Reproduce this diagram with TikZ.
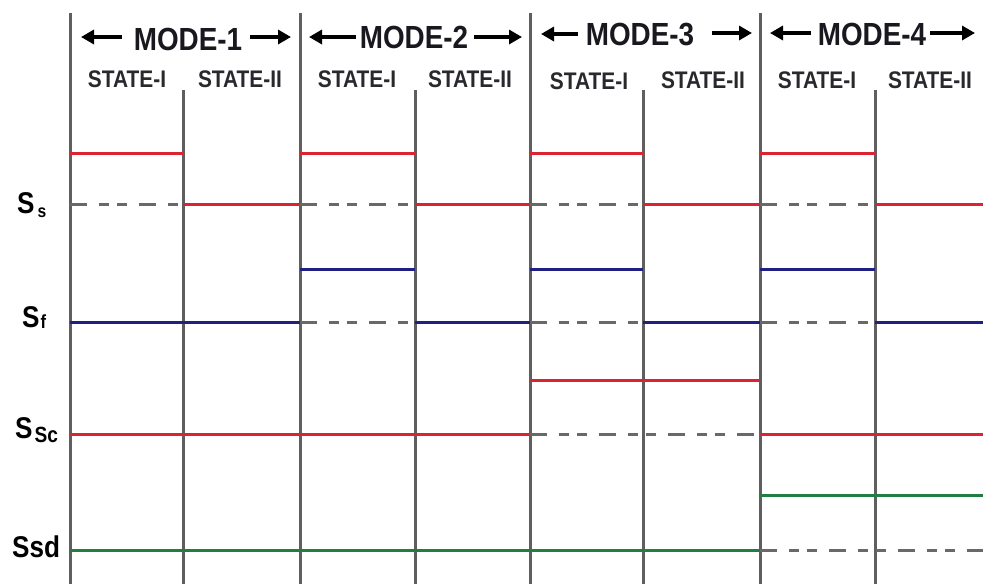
\documentclass[tikz,border=0pt]{standalone}
\usepackage{fontspec}
\setmainfont[FakeStretch=0.87]{Liberation Sans}
\usetikzlibrary{arrows.meta}
\definecolor{vgray}{RGB}{95,95,95}
\definecolor{dgray}{RGB}{105,105,105}
\definecolor{lred}{RGB}{218,36,50}
\definecolor{lblue}{RGB}{32,32,130}
\definecolor{lgreen}{RGB}{36,125,64}
\definecolor{txt}{RGB}{24,24,30}
\begin{document}
\begin{tikzpicture}[x=1pt,y=-1pt,
  majorline/.style={draw=vgray,line width=3pt},
  redln/.style={draw=lred,line width=3pt},
  blueln/.style={draw=lblue,line width=3pt},
  greenln/.style={draw=lgreen,line width=3pt},
  dashln/.style={draw=dgray,line width=3pt,dash pattern=on 17pt off 12pt on 10pt off 8pt on 10pt off 12pt},
  modetxt/.style={font=\bfseries\fontsize{32}{32}\selectfont,text=txt,inner sep=0pt,anchor=base},
  statetxt/.style={font=\bfseries\fontsize{24}{24}\selectfont,text=txt!85!gray,inner sep=0pt,anchor=base},
  lbltxt/.style={font=\bfseries\fontsize{30}{30}\selectfont,text=black,inner sep=0pt,anchor=base west},
  modearr/.style={draw=black,line width=3.6pt,-{Triangle[length=13pt,width=14pt]}}
]
\useasboundingbox (0,0) rectangle (983,584);
\fill[white] (0,0) rectangle (983,584);

% vertical lines
\foreach \x in {70,300,530,760} \draw[majorline] (\x,13) -- (\x,584);
\foreach \x in {183,415,643,875} \draw[majorline] (\x,90) -- (\x,584);

% mode headers
\node[modetxt] (m1) at (188,50) {MODE-1};
\node[modetxt] (m2) at (414,48) {MODE-2};
\node[modetxt] (m3) at (640,45) {MODE-3};
\node[modetxt] (m4) at (872,45) {MODE-4};
\draw[modearr] (122,37) -- (81,37);
\draw[modearr] (250,37) -- (291,37);
\draw[modearr] (356,37) -- (309,37);
\draw[modearr] (474,37) -- (522,37);
\draw[modearr] (578,34) -- (541,34);
\draw[modearr] (712,33) -- (752,33);
\draw[modearr] (811,33) -- (770,33);
\draw[modearr] (930,33) -- (975,33);

% state headers
\node[statetxt] (s1) at (127,87) {STATE-I};
\node[statetxt] (s2) at (240,87) {STATE-II};
\node[statetxt] (s3) at (357,87) {STATE-I};
\node[statetxt] (s4) at (470,87) {STATE-II};
\node[statetxt] (s5) at (589,89) {STATE-I};
\node[statetxt] (s6) at (703,88) {STATE-II};
\node[statetxt] (s7) at (817,88) {STATE-I};
\node[statetxt] (s8) at (930,88) {STATE-II};

% left labels
\node[lbltxt] (lss) at (17,213) {S\hspace{3pt}\raisebox{-4pt}{\fontsize{18}{18}\selectfont s}};
\node[lbltxt] (lsf) at (22,327) {S\hspace{1pt}\raisebox{-1pt}{\fontsize{19}{19}\selectfont f}};
\node[lbltxt] (lssc) at (15,438) {S\hspace{2pt}\raisebox{-4pt}{\fontsize{22}{22}\selectfont Sc}};
\node[lbltxt] (lssd) at (12,557) {Ssd};

% level y=153
\foreach \a/\b in {70/183,300/415,530/643,760/875} \draw[redln] (\a,153) -- (\b,153);
% Ss level y=204
\foreach \a/\b in {70/183,300/415,530/643,760/875} \draw[dashln] (\a,204) -- (\b,204);
\foreach \a/\b in {183/300,415/530,643/760,875/983} \draw[redln] (\a,204) -- (\b,204);
% y=269
\foreach \a/\b in {300/415,530/643,760/875} \draw[blueln] (\a,269) -- (\b,269);
% Sf level y=322
\draw[blueln] (70,322) -- (300,322);
\foreach \a/\b in {300/415,530/643,760/875} \draw[dashln] (\a,322) -- (\b,322);
\foreach \a/\b in {415/530,643/760,875/983} \draw[blueln] (\a,322) -- (\b,322);
% y=380
\draw[redln] (530,380) -- (760,380);
% Ssc level y=434
\draw[redln] (70,434) -- (530,434);
\draw[dashln] (530,434) -- (760,434);
\draw[redln] (760,434) -- (983,434);
% y=495
\draw[greenln] (760,495) -- (983,495);
% Ssd level y=550
\draw[greenln] (70,550) -- (760,550);
\draw[dashln] (760,550) -- (983,550);
\end{tikzpicture}
\end{document}
